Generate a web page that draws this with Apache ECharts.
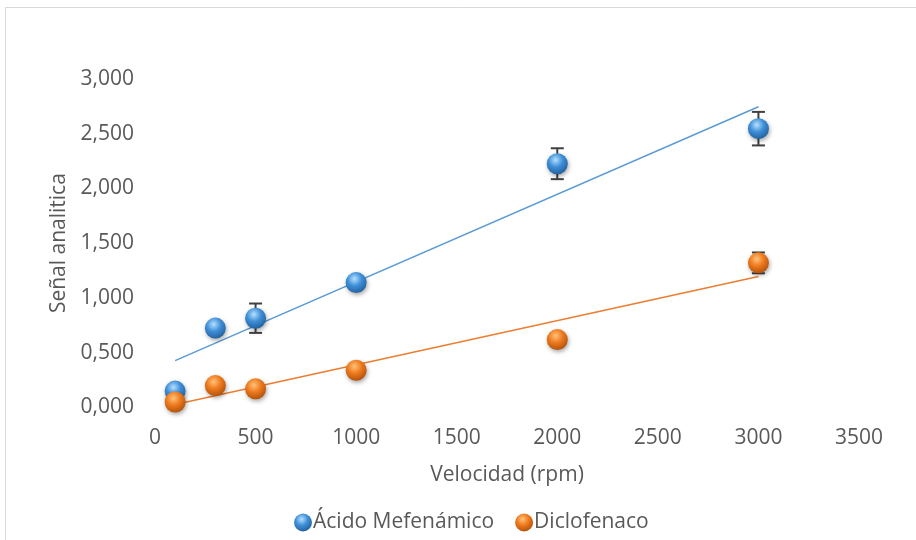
<!DOCTYPE html>
<html><head><meta charset="utf-8">
<script src="https://cdn.jsdelivr.net/npm/echarts@6/dist/echarts.min.js"></script>
<style>html,body{margin:0;padding:0;background:#fff}#c{width:916px;height:540px}</style>
</head><body><div id="c"></div>
<script>
const velocidad = [100, 300, 500, 1000, 2000, 3000];
const mefenamico = [0.15, 0.725, 0.815, 1.14, 2.225, 2.545];
const mefenamicoErr = [0, 0, 0.134, 0, 0.141, 0.153];
const diclofenaco = [0.05, 0.2, 0.17, 0.34, 0.62, 1.32];
const diclofenacoErr = [0, 0, 0, 0, 0, 0.095];
const seriesNames = ['Ácido Mefenámico', 'Diclofenaco'];

function fit(xs, ys) {
  const n = xs.length;
  const mx = xs.reduce((a, b) => a + b, 0) / n;
  const my = ys.reduce((a, b) => a + b, 0) / n;
  let sxy = 0, sxx = 0;
  for (let i = 0; i < n; i++) { sxy += (xs[i] - mx) * (ys[i] - my); sxx += (xs[i] - mx) ** 2; }
  const m = sxy / sxx, b = my - m * mx;
  const x0 = xs[0], x1 = xs[n - 1];
  return [[x0, m * x0 + b], [x1, m * x1 + b]];
}

function sphere(base, light, dark) {
  return {
    type: 'radial', x: 0.42, y: 0.32, r: 0.75,
    colorStops: [
      { offset: 0, color: light },
      { offset: 0.45, color: base },
      { offset: 1, color: dark }
    ]
  };
}
const blueFill = sphere('#3f8fd8', '#b5e0ff', '#1d5a96');
const orangeFill = sphere('#ee7a1e', '#ffc27a', '#a94b08');

function errSeries(ys, errs) {
  const data = [];
  velocidad.forEach((x, i) => { if (errs[i] > 0) data.push([x, ys[i], errs[i]]); });
  return {
    type: 'custom', z: 1, silent: true,
    data: data,
    renderItem: function (params, api) {
      const x = api.value(0), y = api.value(1), e = api.value(2);
      const hi = api.coord([x, y + e]), lo = api.coord([x, y - e]);
      const w = 6.5;
      const st = { stroke: '#404040', lineWidth: 2 };
      return {
        type: 'group', children: [
          { type: 'line', shape: { x1: hi[0], y1: hi[1], x2: lo[0], y2: lo[1] }, style: st },
          { type: 'line', shape: { x1: hi[0] - w, y1: hi[1], x2: hi[0] + w, y2: hi[1] }, style: st },
          { type: 'line', shape: { x1: lo[0] - w, y1: lo[1], x2: lo[0] + w, y2: lo[1] }, style: st }
        ]
      };
    }
  };
}

const textColor = '#595959';
const ff = 'Open Sans';
const fs = 21;
const chart = echarts.init(document.getElementById('c'));
chart.setOption({
  animation: false,
  backgroundColor: '#fff',
  graphic: [
    { type: 'polyline', shape: { points: [[5.5, 540], [5.5, 7.5], [916, 7.5]] }, style: { stroke: '#d9d9d9', lineWidth: 1, fill: null } }
  ],
  grid: { left: 155, right: 57, top: 78.8, bottom: 132.5 },
  xAxis: {
    type: 'value', min: 0, max: 3500, interval: 500,
    name: 'Velocidad (rpm)', nameLocation: 'middle', nameGap: 57,
    nameTextStyle: { color: textColor, fontSize: fs, fontFamily: ff },
    axisLine: { show: false }, axisTick: { show: false }, splitLine: { show: false },
    axisLabel: { color: textColor, fontSize: fs, fontFamily: ff, margin: 20, formatter: v => String(v) }
  },
  yAxis: {
    type: 'value', min: 0, max: 3, interval: 0.5,
    name: 'Señal analitica', nameLocation: 'middle', nameGap: 84,
    nameTextStyle: { color: textColor, fontSize: fs, fontFamily: ff },
    axisLine: { show: false }, axisTick: { show: false }, splitLine: { show: false },
    axisLabel: { color: textColor, fontSize: fs, fontFamily: ff, margin: 21, formatter: v => v.toFixed(3).replace('.', ',') }
  },
  legend: {
    bottom: 2, left: 289, itemGap: 21, itemWidth: 18, itemHeight: 18,
    textStyle: { color: textColor, fontSize: fs, fontFamily: ff, padding: [0, 0, 0, -4] },
    data: [
      { name: seriesNames[0], icon: 'circle', itemStyle: { color: blueFill } },
      { name: seriesNames[1], icon: 'circle', itemStyle: { color: orangeFill } }
    ]
  },
  series: [
    { type: 'line', name: 'trend1', data: fit(velocidad, mefenamico), symbol: 'none', lineStyle: { color: '#5b9bd5', width: 1.5 }, z: 0, silent: true },
    { type: 'line', name: 'trend2', data: fit(velocidad, diclofenaco), symbol: 'none', lineStyle: { color: '#ed7d31', width: 1.5 }, z: 0, silent: true },
    errSeries(mefenamico, mefenamicoErr),
    errSeries(diclofenaco, diclofenacoErr),
    {
      type: 'scatter', name: seriesNames[0], z: 3,
      data: velocidad.map((x, i) => [x, mefenamico[i]]),
      symbolSize: 21,
      itemStyle: { color: blueFill, shadowColor: 'rgba(0,0,0,0.35)', shadowBlur: 4, shadowOffsetX: 1, shadowOffsetY: 2, opacity: 1 }
    },
    {
      type: 'scatter', name: seriesNames[1], z: 4,
      data: velocidad.map((x, i) => [x, diclofenaco[i]]),
      symbolSize: 21,
      itemStyle: { color: orangeFill, shadowColor: 'rgba(0,0,0,0.35)', shadowBlur: 4, shadowOffsetX: 1, shadowOffsetY: 2, opacity: 1 }
    }
  ]
});
</script>
</body></html>
